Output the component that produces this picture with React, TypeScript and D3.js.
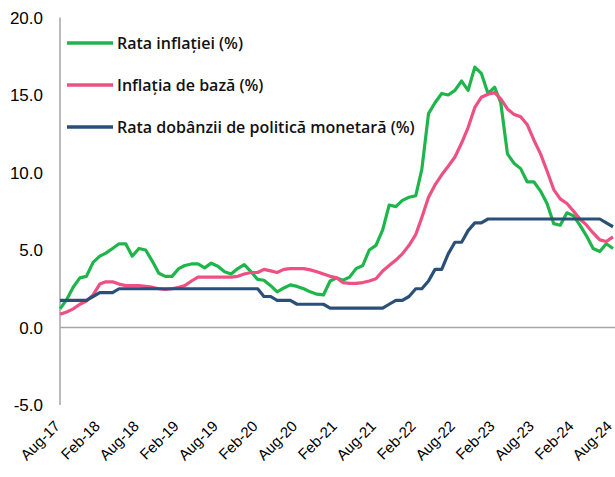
import React, { useEffect, useRef } from 'react';
import * as d3 from 'd3';

// monthly, Aug-17 .. Aug-24
const inflationRate = [
  1.2, 1.8, 2.6, 3.2, 3.3,
  4.2, 4.6, 4.8, 5.1, 5.4, 5.4, 4.6, 5.1, 5.0, 4.3, 3.5, 3.3,
  3.3, 3.8, 4.0, 4.1, 4.1, 3.85, 4.15, 3.95, 3.6, 3.45, 3.8, 4.05,
  3.6, 3.1, 3.05, 2.7, 2.3, 2.55, 2.75, 2.65, 2.5, 2.3, 2.15, 2.1,
  3.0, 3.2, 3.05, 3.25, 3.8, 4.0, 5.0, 5.3, 6.3, 7.9, 7.8, 8.2,
  8.4, 8.5, 10.2, 13.8, 14.5, 15.1, 15.0, 15.3, 15.9, 15.3, 16.8, 16.4,
  15.1, 15.5, 14.5, 11.2, 10.6, 10.25, 9.4, 9.4, 8.8, 8.0, 6.7, 6.6,
  7.4, 7.2, 6.6, 5.9, 5.1, 4.9, 5.4, 5.1,
];

const coreInflation = [
  0.85, 1.0, 1.2, 1.5, 1.7,
  2.1, 2.8, 2.95, 2.95, 2.8, 2.7, 2.7, 2.7, 2.65, 2.6, 2.5, 2.45,
  2.5, 2.6, 2.7, 3.0, 3.25, 3.25, 3.25, 3.25, 3.25, 3.25, 3.3, 3.45,
  3.55, 3.55, 3.75, 3.65, 3.55, 3.75, 3.8, 3.8, 3.8, 3.72, 3.6, 3.45,
  3.3, 3.2, 2.9, 2.85, 2.85, 2.9, 3.0, 3.15, 3.65, 4.0, 4.35, 4.75,
  5.3, 6.0, 7.1, 8.4, 9.2, 9.85, 10.4, 11.0, 11.9, 12.9, 14.2, 14.85,
  15.05, 15.15, 14.75, 14.1, 13.75, 13.6, 13.1, 12.1, 11.2, 10.1, 8.9, 8.3,
  8.0, 7.5, 7.0, 6.6, 6.1, 5.65, 5.55, 5.85,
];

const policyRate = [
  1.75, 1.75, 1.75, 1.75, 1.75,
  2.0, 2.25, 2.25, 2.25, 2.5, 2.5, 2.5, 2.5, 2.5, 2.5, 2.5, 2.5,
  2.5, 2.5, 2.5, 2.5, 2.5, 2.5, 2.5, 2.5, 2.5, 2.5, 2.5, 2.5,
  2.5, 2.5, 2.0, 2.0, 1.75, 1.75, 1.75, 1.5, 1.5, 1.5, 1.5, 1.5,
  1.25, 1.25, 1.25, 1.25, 1.25, 1.25, 1.25, 1.25, 1.25, 1.5, 1.75, 1.75,
  2.0, 2.5, 2.5, 3.0, 3.75, 3.75, 4.75, 5.5, 5.5, 6.25, 6.75, 6.75,
  7.0, 7.0, 7.0, 7.0, 7.0, 7.0, 7.0, 7.0, 7.0, 7.0, 7.0, 7.0,
  7.0, 7.0, 7.0, 7.0, 7.0, 7.0, 6.75, 6.5,
];

const tickLabels = [
  'Aug-17', 'Feb-18', 'Aug-18', 'Feb-19', 'Aug-19', 'Feb-20', 'Aug-20', 'Feb-21',
  'Aug-21', 'Feb-22', 'Aug-22', 'Feb-23', 'Aug-23', 'Feb-24', 'Aug-24',
];
const yTicks = [-5, 0, 5, 10, 15, 20];

const seriesNames = [
  'Rata inflației (%)',
  'Inflația de bază (%)',
  'Rata dobânzii de politică monetară (%)',
];
const seriesColors = ['#1eb64b', '#ee5082', '#2b5078'];

const W = 615;
const H = 477;

const App = () => {
  const svgRef = useRef<SVGSVGElement>(null);

  useEffect(() => {
    const svg = d3.select(svgRef.current);
    svg.selectAll('*').remove();

    const months = d3.timeMonth.range(new Date(2017, 7, 1), new Date(2024, 8, 1));
    const x = d3.scaleTime()
      .domain([months[0], months[months.length - 1]])
      .range([60, 613]);
    const y = d3.scaleLinear().domain([-5, 20]).range([405, 17.5]);

    const axisColor = '#a6a6a6';

    // y axis line and zero line
    svg.append('line')
      .attr('x1', 60).attr('x2', 60)
      .attr('y1', y(20)).attr('y2', y(-5))
      .attr('stroke', axisColor).attr('stroke-width', 1.5);
    svg.append('line')
      .attr('x1', 60).attr('x2', W)
      .attr('y1', y(0)).attr('y2', y(0))
      .attr('stroke', axisColor).attr('stroke-width', 1.5);

    svg.append('g').selectAll('text')
      .data(yTicks)
      .join('text')
      .attr('x', 43)
      .attr('y', d => y(d))
      .attr('dy', '0.36em')
      .attr('text-anchor', 'end')
      .attr('font-family', 'Liberation Sans, Arial, sans-serif')
      .attr('font-size', 17)
      .attr('fill', '#000')
      .text(d => d3.format('.1f')(d).replace('−', '-'));

    const tickMonths = months.filter((_, i) => i % 6 === 0);
    svg.append('g').selectAll('text')
      .data(tickMonths)
      .join('text')
      .attr('transform', d => `translate(${Math.min(x(d) + 1, 613)},${427}) rotate(-45)`)
      .attr('text-anchor', 'end')
      .attr('font-family', 'Liberation Sans, Arial, sans-serif')
      .attr('font-size', 15)
      .attr('fill', '#000')
      .text((_, i) => tickLabels[i]);

    const line = d3.line<number>()
      .x((_, i) => x(months[i]))
      .y(d => y(d));

    [inflationRate, coreInflation, policyRate].forEach((values, k) => {
      svg.append('path')
        .datum(values)
        .attr('d', line)
        .attr('fill', 'none')
        .attr('stroke', seriesColors[k])
        .attr('stroke-width', 3.2)
        .attr('stroke-linejoin', 'round');
    });

    // legend
    const legend = svg.append('g');
    seriesNames.forEach((name, k) => {
      const ly = 43 + k * 42;
      legend.append('line')
        .attr('x1', 67).attr('x2', 113)
        .attr('y1', ly).attr('y2', ly)
        .attr('stroke', seriesColors[k])
        .attr('stroke-width', 3.5);
      legend.append('text')
        .attr('x', 117)
        .attr('y', ly)
        .attr('dy', '0.35em')
        .attr('font-family', 'Open Sans, sans-serif')
        .attr('font-weight', 600)
        .attr('font-size', 16)
        .attr('fill', '#111')
        .text(name);
    });
  }, []);

  return (
    <svg
      ref={svgRef}
      width={W}
      height={H}
      style={{ position: 'absolute', left: 0, top: 0, background: '#fff' }}
    />
  );
};

export default App;
